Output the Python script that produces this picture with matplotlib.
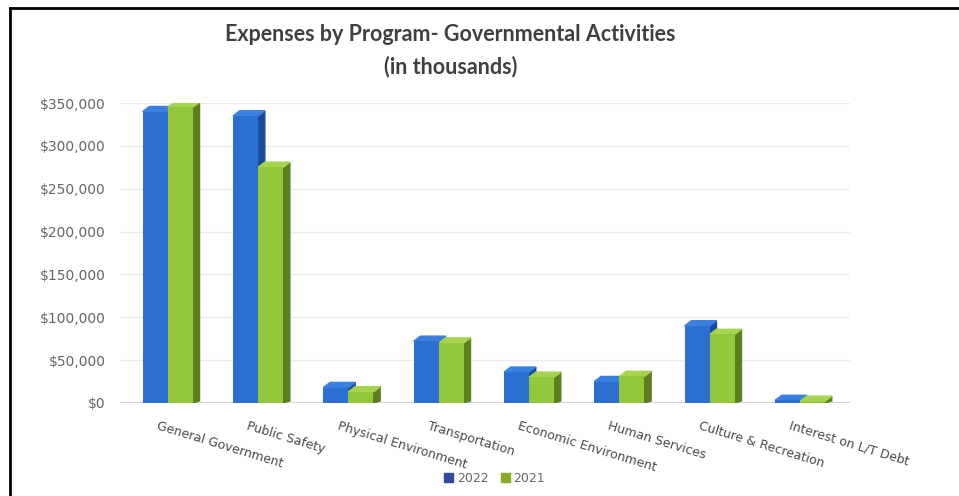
import matplotlib
matplotlib.use('Agg')
import matplotlib.pyplot as plt
from matplotlib.patches import Polygon
from matplotlib.lines import Line2D
from matplotlib.patches import Patch
import numpy as np

categories = ['General Government', 'Public Safety', 'Physical Environment',
              'Transportation', 'Economic Environment', 'Human Services',
              'Culture & Recreation', 'Interest on L/T Debt']
y2022 = [340000, 335000, 18000, 72000, 36000, 25000, 90000, 3000]
y2021 = [345000, 275000, 13000, 70000, 30000, 31000, 80000, 2000]
yticks = [0, 50000, 100000, 150000, 200000, 250000, 300000, 350000]
ytick_labels = ['$0', '$50,000', '$100,000', '$150,000', '$200,000',
                '$250,000', '$300,000', '$350,000']

blue, blue_side, blue_top = '#2b6fd2', '#1b4a9c', '#3a80e0'
green, green_side, green_top = '#93c83c', '#5b7f1f', '#a6d44e'

fig = plt.figure(figsize=(9.59, 4.96), dpi=100)
ax = fig.add_axes([0.125, 0.1875, 0.761, 0.6048])

x = np.arange(len(categories))
w = 0.277
dx, dy = 0.075, 6000   # fake depth of the 3d bars

def bar3d(xs, vals, front, side, top):
    ax.bar(xs, vals, width=w, align='edge', color=front, zorder=3)
    for xi, v in zip(xs, vals):
        ax.add_patch(Polygon([(xi + w, 0), (xi + w + dx, dy * 0.4), (xi + w + dx, v + dy),
                              (xi + w, v)], closed=True, color=side, zorder=2))
        ax.add_patch(Polygon([(xi, v), (xi + dx, v + dy), (xi + w + dx, v + dy),
                              (xi + w, v)], closed=True, color=top, zorder=2))

bar3d(x - w, y2022, blue, blue_side, blue_top)
bar3d(x, y2021, green, green_side, green_top)

ax.set_xlim(-0.53, 7.55)
ax.set_ylim(0, 350000)
ax.set_yticks(yticks)
ax.set_yticklabels(ytick_labels, fontsize=10, color='#666666')
ax.tick_params(axis='y', length=0, pad=10)
ax.set_xticks([])
ax.grid(axis='y', color='#ececec', linewidth=1, zorder=0)
for s in ax.spines.values():
    s.set_visible(False)
ax.axhline(0, color='#d0d0d0', linewidth=1.5, zorder=1)

for xi, name in zip(x, categories):
    ax.text(xi - 0.1, -0.055, name, transform=ax.get_xaxis_transform(),
            rotation=-17, rotation_mode='anchor', ha='left', va='top',
            fontsize=9, color='#4a4a4a')

fig.text(0.47, 0.93, 'Expenses by Program- Governmental Activities', ha='center', va='center',
         fontsize=15.5, fontweight='bold', color='#404040', family='Lato')
fig.text(0.47, 0.866, '(in thousands)', ha='center', va='center',
         fontsize=15.5, fontweight='bold', color='#404040', family='Lato')

handles = [Patch(color='#2e4c9e', label='2022'), Patch(color='#8aaa2a', label='2021')]
fig.legend(handles=handles, loc='center', bbox_to_anchor=(0.516, 0.036), ncol=2,
           frameon=False, fontsize=9, handlelength=0.7, handleheight=0.7,
           handletextpad=0.3, columnspacing=1.0, labelcolor='#666666')

fig.add_artist(Line2D([0.0104, 1.0], [0.984, 0.984], color='black', linewidth=2,
                      transform=fig.transFigure))
fig.add_artist(Line2D([0.0104, 0.0104], [0.0, 0.984], color='black', linewidth=2,
                      transform=fig.transFigure))

fig.savefig('out.png', dpi=100)
